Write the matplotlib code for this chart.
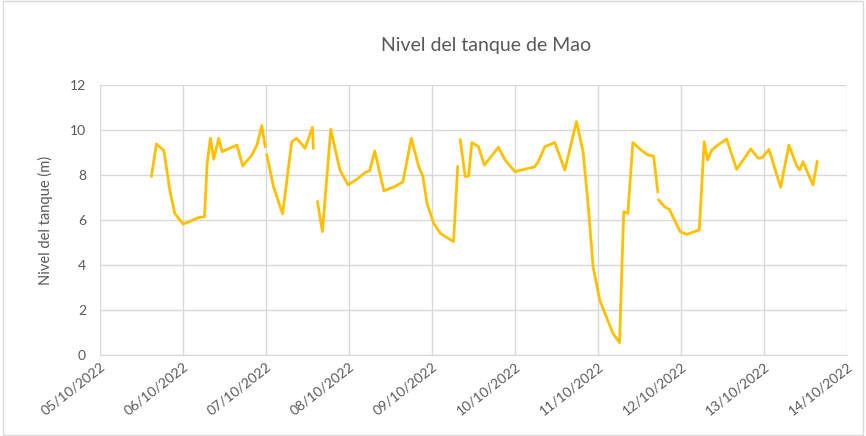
import matplotlib
matplotlib.use("Agg")
import matplotlib.pyplot as plt
import matplotlib.dates as mdates
import matplotlib.patches as patches
import numpy as np
import pandas as pd

plt.rcParams['font.family'] = ['Lato', 'DejaVu Sans']

# lecturas del nivel (None = sin dato, corta la linea)
fechas = [
    "05/10 14:53", "05/10 16:19", "05/10 18:29", "05/10 20:10", "05/10 21:36",
    "06/10 00:00", "06/10 01:55", "06/10 04:19", "06/10 06:14", "06/10 06:58",
    "06/10 07:55", "06/10 08:53", "06/10 10:19", "06/10 11:17", "06/10 15:36",
    "06/10 17:17", "06/10 19:55", "06/10 21:22", "06/10 22:48", "06/10 23:46",
    "06/10 23:55",
    "07/10 00:14", "07/10 02:10", "07/10 04:48", "07/10 07:26", "07/10 08:53",
    "07/10 11:17", "07/10 13:26", "07/10 13:41",
    "07/10 14:10",
    "07/10 14:53", "07/10 16:19", "07/10 18:43", "07/10 21:22", "07/10 23:46",
    "08/10 02:38", "08/10 04:34", "08/10 06:00", "08/10 07:26", "08/10 10:05",
    "08/10 13:12", "08/10 15:36", "08/10 18:00", "08/10 20:10", "08/10 21:22",
    "08/10 22:34", "09/10 00:29", "09/10 02:24", "09/10 06:14", "09/10 07:26",
    "09/10 07:50",
    "09/10 08:10", "09/10 09:36", "09/10 10:34", "09/10 11:31", "09/10 13:26",
    "09/10 15:07", "09/10 19:12", "09/10 21:07", "10/10 00:00", "10/10 05:46",
    "10/10 06:43", "10/10 08:38", "10/10 11:31", "10/10 14:24", "10/10 17:46",
    "10/10 19:41", "10/10 21:07", "10/10 22:34", "11/10 00:29", "11/10 02:24",
    "11/10 04:19", "11/10 06:14", "11/10 07:26", "11/10 08:38", "11/10 10:05",
    "11/10 12:29", "11/10 14:24", "11/10 16:05", "11/10 17:17",
    "11/10 17:24",
    "11/10 17:31", "11/10 19:12", "11/10 20:38", "11/10 23:46", "12/10 01:41",
    "12/10 05:17", "12/10 06:43", "12/10 07:41", "12/10 08:53", "12/10 10:19",
    "12/10 13:12", "12/10 16:05", "12/10 18:00", "12/10 20:10", "12/10 22:19",
    "12/10 23:31", "13/10 01:26", "13/10 03:07", "13/10 04:48", "13/10 07:12",
    "13/10 09:22", "13/10 10:19", "13/10 11:17", "13/10 12:43", "13/10 14:10",
    "13/10 15:22",
]

nivel = [
    7.95, 9.38, 9.08, 7.33, 6.30,
    5.82, 5.93, 6.10, 6.15, 8.49,
    9.63, 8.70, 9.63, 9.04, 9.33,
    8.40, 8.89, 9.33, 10.20, 9.26,
    None,
    8.89, 7.48, 6.27, 9.48, 9.63,
    9.19, 10.12, 9.19,
    None,
    6.81, 5.48, 10.03, 8.22, 7.56,
    7.85, 8.10, 8.19, 9.07, 7.30,
    7.48, 7.70, 9.63, 8.37, 7.93,
    6.74, 5.85, 5.41, 5.04, 8.37,
    None,
    9.56, 7.93, 7.95, 9.44, 9.26,
    8.44, 9.23, 8.67, 8.15, 8.37,
    8.59, 9.26, 9.44, 8.22, 10.37,
    9.04, 6.74, 3.93, 2.45, 1.70,
    0.96, 0.55, 6.37, 6.30, 9.44,
    9.11, 8.89, 8.84, 7.26,
    None,
    6.89, 6.59, 6.47, 5.48, 5.36,
    5.56, 9.48, 8.67, 9.11, 9.29,
    9.60, 8.25, 8.67, 9.16, 8.74,
    8.78, 9.14, 8.30, 7.45, 9.33,
    8.44, 8.22, 8.59, 8.07, 7.56,
    8.59,
]

x = pd.to_datetime([f + " 2022" for f in fechas], format="%d/%m %H:%M %Y")
y = np.array([np.nan if v is None else v for v in nivel], dtype=float)

gris = "#595959"

fig = plt.figure(figsize=(8.66, 4.36), dpi=100)
ax = fig.add_axes([100 / 866, 1 - 355 / 436, 747 / 866, 270 / 436])

ax.plot(x, y, color="#FFC000", linewidth=2, solid_joinstyle="round")

ax.set_xlim(pd.Timestamp("2022-10-05"), pd.Timestamp("2022-10-14"))
ax.set_ylim(0, 12)
ax.set_yticks(range(0, 13, 2))
ax.xaxis.set_major_locator(mdates.DayLocator())
ax.xaxis.set_major_formatter(mdates.DateFormatter("%d/%m/%Y"))

ax.grid(True, color="#D9D9D9", linewidth=1)
ax.set_axisbelow(True)
for s in ["top", "right", "left"]:
    ax.spines[s].set_visible(False)
ax.spines["bottom"].set_color("#D9D9D9")
ax.tick_params(length=0, colors=gris, labelsize=10)
ax.tick_params(axis="y", pad=10)
for lab in ax.get_xticklabels():
    lab.set_rotation(38)
    lab.set_ha("right")
    lab.set_rotation_mode("anchor")

ax.set_ylabel("Nivel del tanque (m)", color=gris, fontsize=10.5, labelpad=12)
fig.text(486 / 866, 1 - 45 / 436, "Nivel del tanque de Mao", ha="center",
         va="center", fontsize=14, color=gris)

fig.patches.append(patches.Rectangle((0.003, 0.003), 0.994, 0.994,
                                     transform=fig.transFigure, fill=False,
                                     edgecolor="#D9D9D9", linewidth=1))

fig.savefig("out.png", dpi=100)
